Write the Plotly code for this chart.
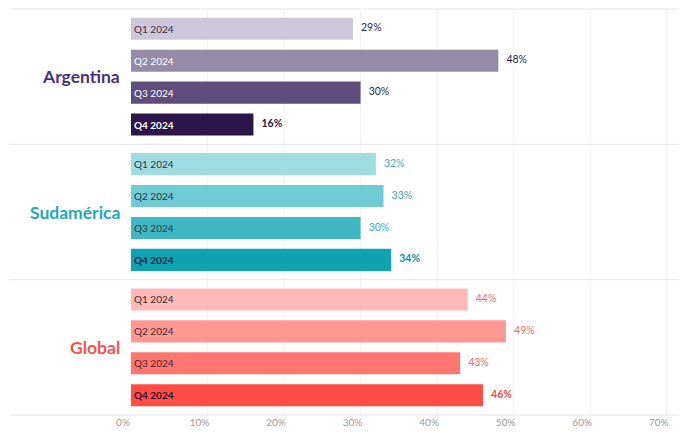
import plotly.graph_objects as go
from plotly.subplots import make_subplots

regions = ["Argentina", "Sudamérica", "Global"]
quarters = ["Q1 2024", "Q2 2024", "Q3 2024", "Q4 2024"]
argentina = [29, 48, 30, 16]
sudamerica = [32, 33, 30, 34]
global_vals = [44, 49, 43, 46]
values = [argentina, sudamerica, global_vals]

tick_vals = [0, 10, 20, 30, 40, 50, 60, 70]
tick_text = ["0%", "10%", "20%", "30%", "40%", "50%", "60%", "70%"]

bar_colors = [
    ["#cdc7d9", "#958ba9", "#5f4e7c", "#2b1649"],
    ["#a0dde3", "#6fcbd4", "#3fb7c3", "#0fa2b0"],
    ["#ffb9b7", "#ff9893", "#ff7570", "#ff4c45"],
]
inner_text_colors = [
    ["#3a3348", "#ffffff", "#ffffff", "#ffffff"],
    ["#2c3440", "#2c3440", "#2c3440", "#16264a"],
    ["#3c2a30", "#3c2a30", "#3c2a30", "#2a1530"],
]
value_colors = [
    ["#2d1f47", "#2d1f47", "#2d1f47", "#2b1649"],
    ["#36adb8", "#36adb8", "#36adb8", "#138f9c"],
    ["#f26a66", "#f26a66", "#f26a66", "#f04a44"],
]
title_colors = ["#4a2f7a", "#1fa9b7", "#f2554f"]

font = "Lato"

fig = make_subplots(rows=3, cols=1, shared_xaxes=True, vertical_spacing=0)

for r in range(3):
    vals = values[r]
    inner = ["<b>" + q + "</b>" if i == 3 else q for i, q in enumerate(quarters)]
    outer = ["<b>%d%%</b>" % v if i == 3 else "%d%%" % v for i, v in enumerate(vals)]
    fig.add_trace(go.Bar(
        y=quarters, x=vals, orientation="h",
        marker=dict(color=bar_colors[r], line_width=0),
        width=0.69,
        text=inner, textposition="inside", insidetextanchor="start",
        textfont=dict(family=font, size=10, color=inner_text_colors[r]),
        constraintext="none",
        showlegend=False,
    ), row=r + 1, col=1)
    fig.add_trace(go.Scatter(
        y=quarters, x=vals, mode="text",
        text=["   " + t for t in outer], textposition="middle right",
        textfont=dict(family=font, size=10.5, color=value_colors[r]),
        cliponaxis=False, showlegend=False,
    ), row=r + 1, col=1)
    fig.add_annotation(
        text="<b>" + regions[r] + "</b>", x=-0.016, xref="paper",
        y=0.5, yref="y%s domain" % ("" if r == 0 else r + 1),
        xanchor="right", yanchor="middle", showarrow=False,
        font=dict(family=font, size=17.5, color=title_colors[r]),
    )

fig.update_yaxes(type="category", categoryorder="array", categoryarray=quarters,
                 range=[3.62, -0.62], showticklabels=False, showgrid=False,
                 zeroline=False)
fig.update_xaxes(range=[0, 72], tickvals=tick_vals, ticktext=tick_text,
                 showgrid=True, gridcolor="#f3f3f3", gridwidth=1, zeroline=False,
                 tickfont=dict(family=font, size=10, color="#999999"),
                 ticklabelshift=-8, ticks="", showline=False)

for yv in [0, 1 / 3, 2 / 3, 1]:
    fig.add_shape(type="line", xref="paper", yref="paper", x0=-0.22, x1=1.02,
                  y0=yv, y1=yv, line=dict(color="#e6e6e6", width=1))

# page adds an 8px body margin, so the figure is sized/offset to compensate
fig.update_layout(
    width=679, height=426,
    margin=dict(l=123, r=4.5, t=1, b=19),
    plot_bgcolor="white", paper_bgcolor="white",
    bargap=0.3,
)

fig.write_html("out.html")
